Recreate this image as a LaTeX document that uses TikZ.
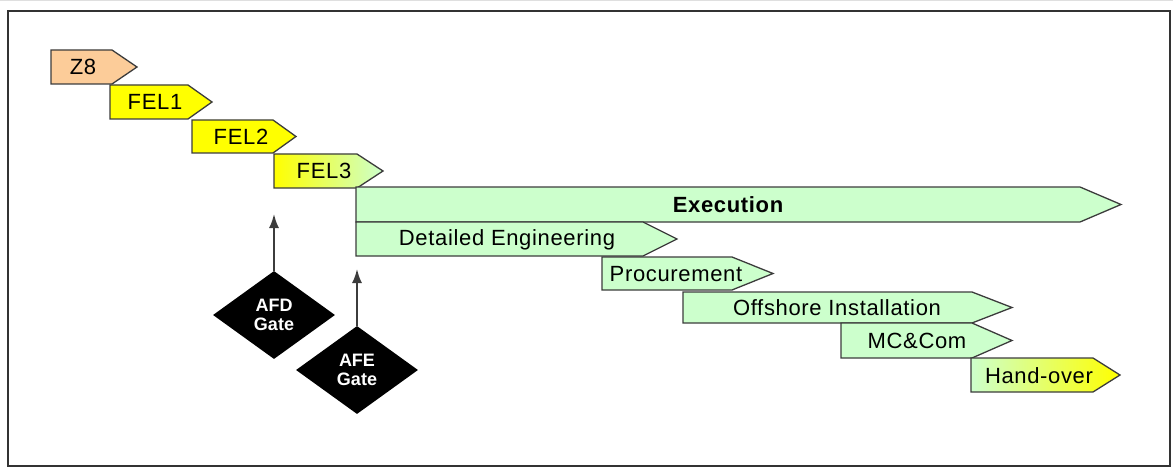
\documentclass[tikz,border=0pt]{standalone}
\usepackage{fontspec}
\setmainfont{Liberation Sans}
\newfontfamily\lblfont[LetterSpace=3]{Liberation Sans}
\usetikzlibrary{shapes.geometric,arrows.meta}

\definecolor{peach}{RGB}{252,204,153}
\definecolor{lgreen}{RGB}{204,255,204}
\definecolor{yel}{RGB}{255,255,0}
\definecolor{edge}{RGB}{60,60,60}

\newcommand\phasebox[6]{%
  \path[phase,#6] (#1,#4) -- (#2,#4) -- (#3,{(#4+#5)/2}) -- (#2,#5) -- (#1,#5) -- cycle;}

\begin{document}
\begin{tikzpicture}[x=1pt,y=-1pt,
  phase/.style={draw=edge,line width=1.3pt,line join=miter},
  lbl/.style={font=\lblfont\fontsize{22}{24}\selectfont,inner sep=0pt,anchor=center},
  gate/.style={diamond,fill=black,minimum width=122pt,minimum height=88pt,inner sep=0pt,align=center,text=white,font=\bfseries\fontsize{18}{19}\selectfont},
  up/.style={draw=edge,line width=1.8pt,-{Latex[length=14pt,width=10pt]}}]

\useasboundingbox (0,0) rectangle (1173,468);
\draw[gray!25,line width=1pt] (0,1) -- (1173,1);
\draw[black!80,line width=2.2pt] (8,11) rectangle (1170,466);

% phases
\phasebox{51}{112}{137}{50}{84}{fill=peach}
\phasebox{110}{188}{212}{85}{119}{fill=yel}
\phasebox{192}{273}{296}{120}{153}{fill=yel}
\phasebox{274}{357}{383}{154}{188}{left color=yel,right color=lgreen}
\phasebox{356}{1080}{1121}{187}{222}{fill=lgreen}
\phasebox{356}{643}{677}{222}{256}{fill=lgreen}
\phasebox{602}{732}{773}{257}{290}{fill=lgreen}
\phasebox{683}{972}{1012}{292}{323}{fill=lgreen}
\phasebox{841}{972}{1012}{323}{358}{fill=lgreen}
\phasebox{971}{1093}{1120}{358}{392}{left color=lgreen,right color=yel}

% labels
\node[lbl] (z8) at (83,67) {Z8};
\node[lbl] (fel1) at (155,102) {FEL1};
\node[lbl] (fel2) at (241,137) {FEL2};
\node[lbl] (fel3) at (324,171) {FEL3};
\node[lbl,font=\lblfont\bfseries\fontsize{22}{24}\selectfont] (exec) at (728,205) {Execution};
\node[lbl] (deteng) at (507,240) {Detailed Engineering};
\node[lbl] (proc) at (676,274) {Procurement};
\node[lbl] (offs) at (837,308) {Offshore Installation};
\node[lbl] (mccom) at (917,341) {MC\&Com};
\node[lbl] (hand) at (1039,376) {Hand-over};

% gates
\node[gate] (afd) at (274,315) {AFD\\Gate};
\node[gate] (afe) at (357,370) {AFE\\Gate};
\coordinate (afdtip) at (274,214);
\coordinate (afetip) at (357,269);
\draw[up] (afd.north) -- (afdtip);
\draw[up] (afe.north) -- (afetip);
\end{tikzpicture}
\end{document}
